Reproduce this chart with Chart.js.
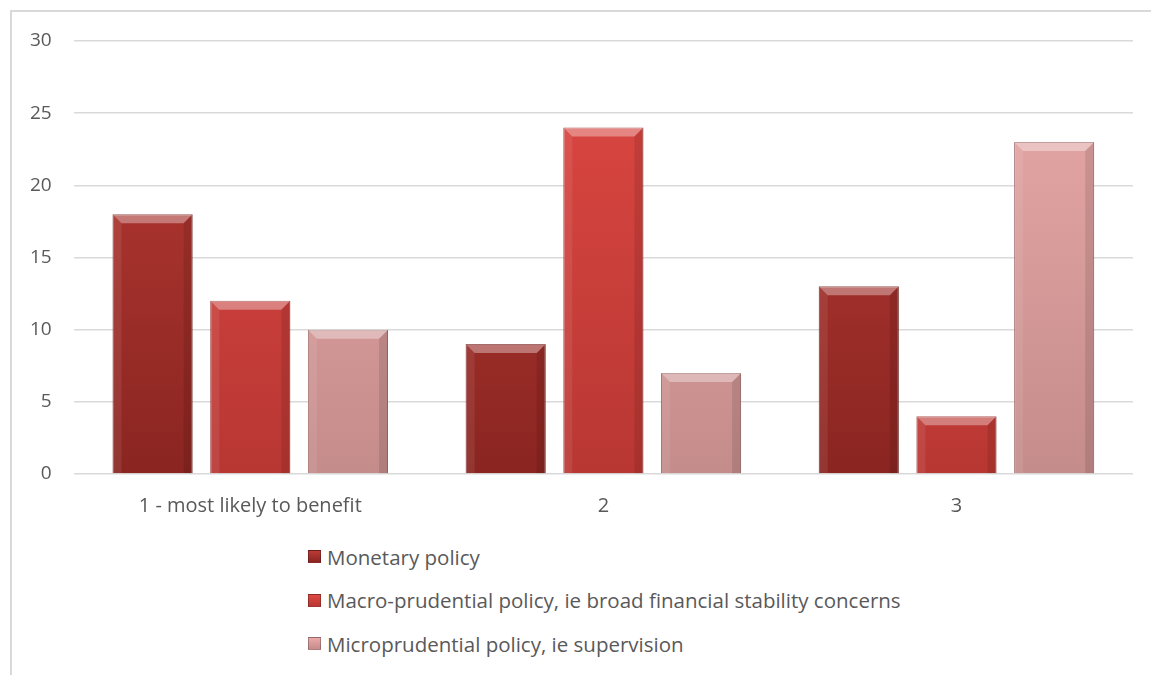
<!DOCTYPE html>
<html>
<head>
<meta charset="utf-8">
<script src="https://cdn.jsdelivr.net/npm/chart.js@4"></script>
<style>
  body { margin: 0; background: #fff; width: 1151px; height: 675px; overflow: hidden; position: relative; font-family: "Open Sans", sans-serif; }
  .frame { position: absolute; left: 10px; top: 10px; width: 1200px; height: 700px; border-left: 2px solid #d9d9d9; border-top: 2px solid #d9d9d9; }
  #wrap { position: absolute; left: 0; top: 0; width: 1151px; height: 530px; }
  .legend { position: absolute; left: 308px; top: 535px; color: #595959; font-size: 20.5px; }
  .legend-item { display: flex; align-items: center; height: 43.5px; }
  .legend-box { width: 11px; height: 11px; margin-right: 6px; border: 1px solid rgba(0,0,0,0.25); }
</style>
</head>
<body>
<div class="frame"></div>
<div id="wrap"><canvas id="chart"></canvas></div>
<div class="legend" id="legend"></div>
<script>
// ==================== DATA ====================
const categories = ['1 - most likely to benefit', '2', '3'];
const seriesNames = ['Monetary policy', 'Macro-prudential policy, ie broad financial stability concerns', 'Microprudential policy, ie supervision'];
const monetary = [18, 9, 13];
const macro = [12, 24, 4];
const micro = [10, 7, 23];
const yTicks = [0, 5, 10, 15, 20, 25, 30];

// top / bottom colours for each series gradient
const COLORS = [
    { top: '#bb3b35', bottom: '#8a2521', edge: '#74201d' },
    { top: '#df4843', bottom: '#b83733', edge: '#952b28' },
    { top: '#eaaaa9', bottom: '#c48c8b', edge: '#a06c6b' }
];

function barGradient(ctx, i) {
    const chart = ctx.chart;
    const area = chart.chartArea;
    if (!area) return COLORS[i].top;
    const el = ctx.element;
    const top = el && el.y !== undefined ? el.y : area.top;
    const base = el && el.base !== undefined ? el.base : area.bottom;
    if (!isFinite(top) || !isFinite(base) || top === base) return COLORS[i].top;
    const g = chart.ctx.createLinearGradient(0, top, 0, base);
    g.addColorStop(0, COLORS[i].top);
    g.addColorStop(1, COLORS[i].bottom);
    return g;
}

// light bevel on each bar, like the office "3D" look
const bevelPlugin = {
    id: 'bevel',
    afterDatasetsDraw(chart) {
        const c = chart.ctx;
        chart.data.datasets.forEach((ds, di) => {
            chart.getDatasetMeta(di).data.forEach(bar => {
                const w = bar.width, x0 = bar.x - w / 2, x1 = bar.x + w / 2, y0 = bar.y, y1 = bar.base;
                const b = 9;
                c.save();
                c.fillStyle = 'rgba(255,255,255,0.35)';
                c.beginPath();
                c.moveTo(x0, y0); c.lineTo(x1, y0); c.lineTo(x1 - b, y0 + b); c.lineTo(x0 + b, y0 + b); c.closePath();
                c.fill();
                c.fillStyle = 'rgba(255,255,255,0.08)';
                c.beginPath();
                c.moveTo(x0, y0); c.lineTo(x0 + b, y0 + b); c.lineTo(x0 + b, y1); c.lineTo(x0, y1); c.closePath();
                c.fill();
                c.fillStyle = 'rgba(0,0,0,0.1)';
                c.beginPath();
                c.moveTo(x1, y0); c.lineTo(x1 - b, y0 + b); c.lineTo(x1 - b, y1); c.lineTo(x1, y1); c.closePath();
                c.fill();
                c.restore();
            });
        });
    }
};

const allSeries = [monetary, macro, micro];
const datasets = allSeries.map((vals, i) => ({
    label: seriesNames[i],
    data: vals,
    backgroundColor: ctx => barGradient(ctx, i),
    borderColor: COLORS[i].edge,
    borderWidth: 1,
    categoryPercentage: 0.83,
    barPercentage: 0.82
}));

// html legend, stacked and left aligned
const legend = document.getElementById('legend');
seriesNames.forEach((name, i) => {
    const item = document.createElement('div');
    item.className = 'legend-item';
    item.innerHTML = `<div class="legend-box" style="background:linear-gradient(${COLORS[i].top}, ${COLORS[i].bottom})"></div><span>${name}</span>`;
    legend.appendChild(item);
});

new Chart(document.getElementById('chart'), {
    type: 'bar',
    data: { labels: categories, datasets: datasets },
    plugins: [bevelPlugin],
    options: {
        responsive: true,
        maintainAspectRatio: false,
        animation: false,
        layout: { padding: { left: 8, right: 18, top: 41, bottom: 0 } },
        plugins: { legend: { display: false }, tooltip: { enabled: false } },
        scales: {
            x: {
                grid: { display: false },
                border: { display: false },
                ticks: { color: '#595959', font: { family: 'Open Sans', size: 20 }, padding: 12 }
            },
            y: {
                min: 0, max: 30,
                afterBuildTicks: axis => { axis.ticks = yTicks.map(v => ({ value: v })); },
                grid: { color: '#d9d9d9', lineWidth: 1.5, drawTicks: false },
                border: { display: false },
                ticks: { color: '#595959', font: { family: 'Open Sans', size: 19 }, padding: 22 }
            }
        }
    }
});
</script>
</body>
</html>
